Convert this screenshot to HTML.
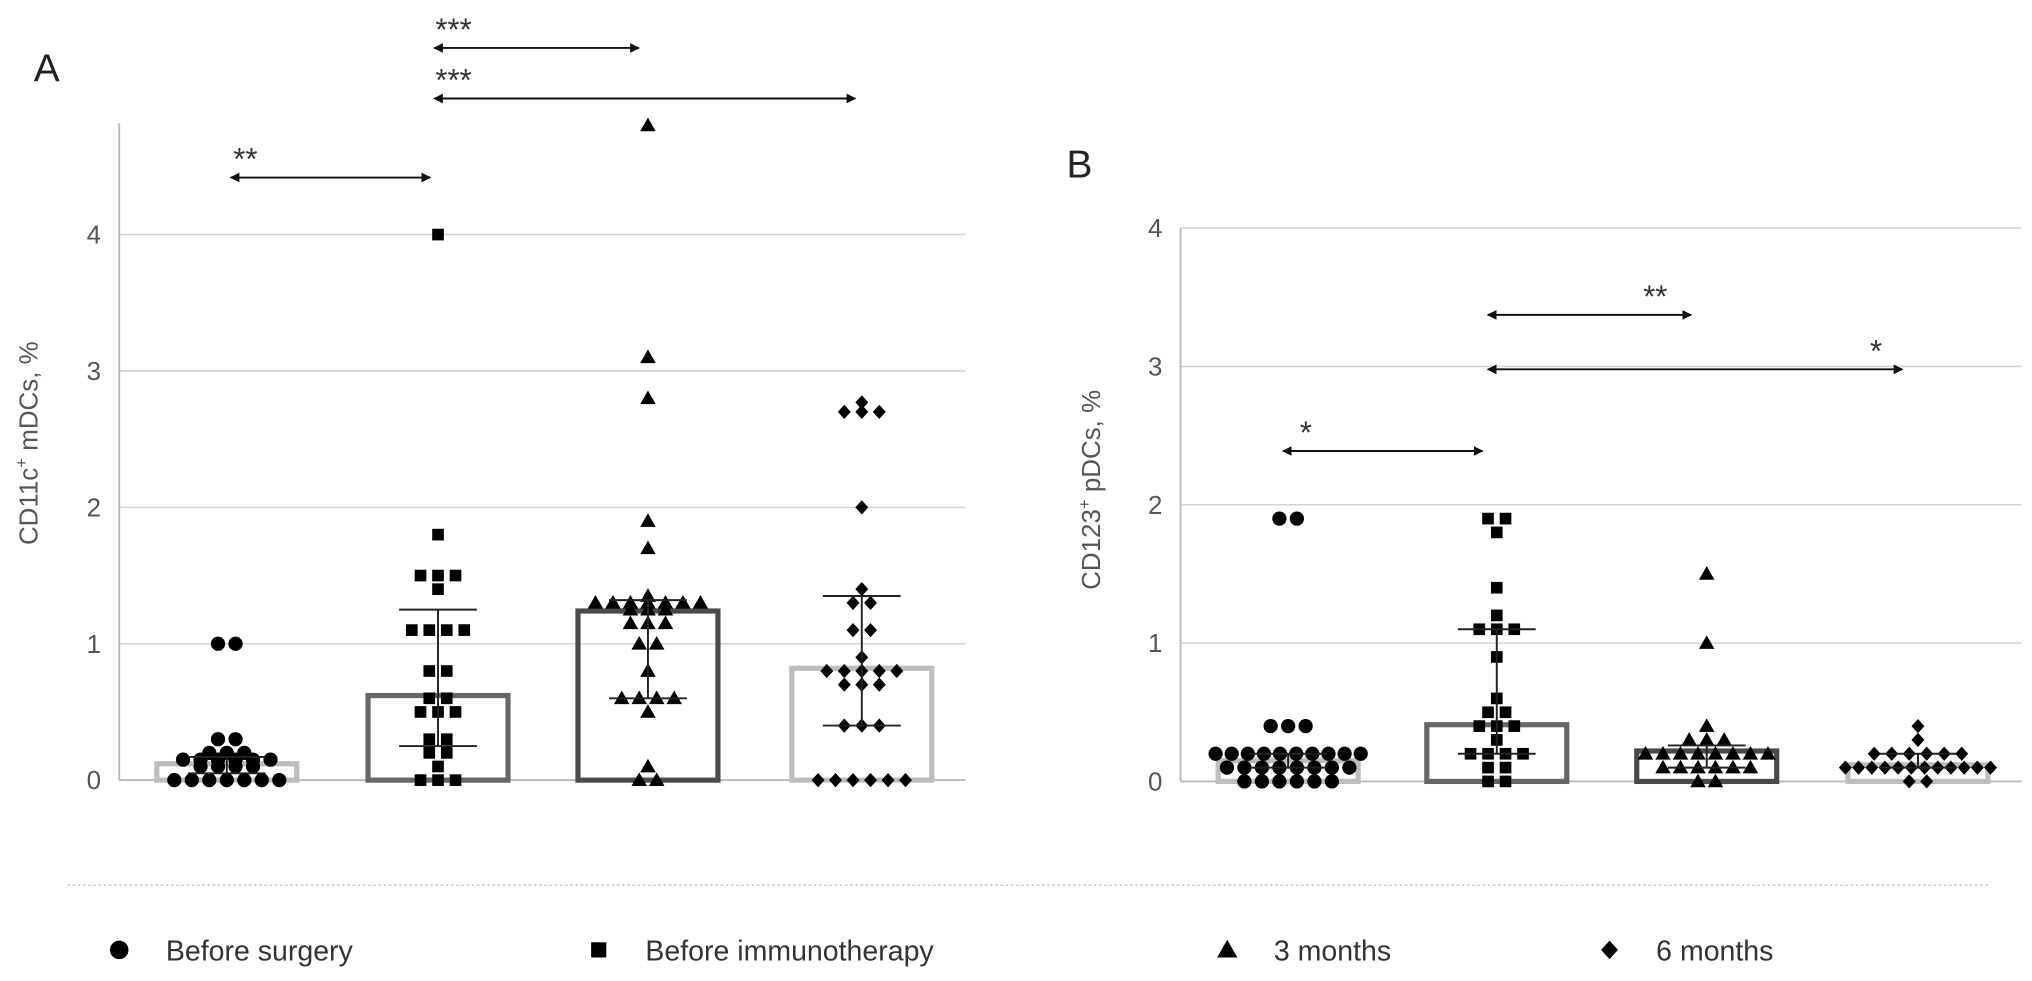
<!DOCTYPE html>
<html><head><meta charset="utf-8"><style>
html,body{margin:0;padding:0;background:#fff;}
svg{display:block;font-family:"Liberation Sans",sans-serif;}
</style></head><body>
<svg id="chart" width="2032" height="981" viewBox="0 0 1568 757" preserveAspectRatio="none" xmlns="http://www.w3.org/2000/svg">
<defs>
<marker id="ah" viewBox="0 0 10 10" refX="9" refY="5" markerWidth="5" markerHeight="5" orient="auto-start-reverse"><path d="M0,0 L10,5 L0,10 z" fill="#111"/></marker>
</defs>
<g id="root"></g>
</svg>
<script>
const ticks = [0,1,2,3,4];
const groups = ["Before surgery","Before immunotherapy","3 months","6 months"];
const shapes = ["circle","square","triangle","diamond"];
const medA = [0.12,0.62,1.24,0.82];
const hiA = [0.17,1.25,1.32,1.35];
const loA = [0.05,0.25,0.6,0.4];
const ptsA1 = [1,1,0.3,0.3,0.2,0.2,0.2,0.15,0.15,0.15,0.15,0.15,0.15,0.1,0.1,0.1,0.1,0,0,0,0,0,0,0];
const ptsA2 = [4,1.8,1.5,1.5,1.5,1.4,1.1,1.1,1.1,1.1,0.8,0.8,0.6,0.6,0.5,0.5,0.5,0.3,0.3,0.2,0.2,0.1,0,0,0];
const ptsA3 = [4.8,3.1,2.8,1.9,1.7,1.3,1.3,1.3,1.3,1.3,1.3,1.3,1.35,1.25,1.25,1.25,1.15,1.15,1.15,1,1,0.8,0.6,0.6,0.6,0.6,0.5,0.1,0,0];
const ptsA4 = [2.77,2.7,2.7,2.7,2,1.4,1.3,1.3,1.1,1.1,0.9,0.8,0.8,0.8,0.8,0.8,0.7,0.7,0.7,0.4,0.4,0.4,0,0,0,0,0,0];
const medB = [0.15,0.41,0.22,0.12];
const hiB = [0.2,1.1,0.26,0.2];
const loB = [0.1,0.2,0.1,0.1];
const ptsB1 = [1.9,1.9,0.4,0.4,0.4,0.2,0.2,0.2,0.2,0.2,0.2,0.2,0.2,0.2,0.2,0.1,0.1,0.1,0.1,0.1,0.1,0.1,0.1,0,0,0,0,0,0];
const ptsB2 = [1.9,1.9,1.8,1.4,1.2,1.1,1.1,1.1,0.9,0.6,0.5,0.5,0.4,0.4,0.4,0.3,0.2,0.2,0.2,0.2,0.1,0.1,0,0];
const ptsB3 = [1.5,1,0.4,0.3,0.3,0.3,0.2,0.2,0.2,0.2,0.2,0.2,0.2,0.2,0.1,0.1,0.1,0.1,0.1,0.1,0,0];
const ptsB4 = [0.4,0.3,0.2,0.2,0.2,0.2,0.2,0.2,0.1,0.1,0.1,0.1,0.1,0.1,0.1,0.1,0.1,0.1,0.1,0.1,0,0];

const NS="http://www.w3.org/2000/svg";
const root=document.getElementById('root');
function mk(tag,attrs,parent){const e=document.createElementNS(NS,tag);for(const k in attrs)e.setAttribute(k,attrs[k]);(parent||root).appendChild(e);return e;}
function marker(shape,x,y,s,parent){
  let e;
  if(shape==='circle'){e=mk('circle',{cx:x,cy:y,r:s*0.55,fill:'#000'},parent);}
  else if(shape==='square'){e=mk('rect',{x:x-s*0.45,y:y-s*0.45,width:s*0.9,height:s*0.9,fill:'#000'},parent);}
  else if(shape==='triangle'){e=mk('polygon',{points:`${x},${y-s*0.6} ${x+s*0.6},${y+s*0.45} ${x-s*0.6},${y+s*0.45}`,fill:'#000'},parent);}
  else {e=mk('polygon',{points:`${x},${y-s*0.55} ${x+s*0.5},${y} ${x},${y+s*0.55} ${x-s*0.5},${y}`,fill:'#000'},parent);}
  return e;
}
const barCol=['#bdbdbd','#666','#4a4a4a','#bdbdbd'];
function panel(cfg){
  const g=mk('g',{});
  
  
  const y=v=>cfg.y0-(v/4)*(cfg.y0-cfg.y4);
  ticks.forEach(t=>{
    if(t>0){const l=mk('line',{x1:cfg.ax,x2:cfg.right,y1:y(t),y2:y(t),stroke:'#d4d4d4','stroke-width':1.2},g);
      
      }
    const tx=mk('text',{x:cfg.ax-14,y:y(t)+7,'font-size':20,fill:'#555','text-anchor':'end'},g);
    tx.textContent=t;
    
    
  });
  const ax=mk('line',{x1:cfg.ax,x2:cfg.ax,y1:cfg.top,y2:cfg.y0,stroke:'#bbb','stroke-width':1.5},g);
  
  
  const bx=mk('line',{x1:cfg.ax,x2:cfg.right,y1:cfg.y0,y2:cfg.y0,stroke:'#bbb','stroke-width':1.5},g);
  
  
  cfg.centers.forEach((c,i)=>{
    const h=cfg.med[i];
    const b=mk('rect',{x:c-54,y:y(h),width:108,height:cfg.y0-y(h),fill:'none',stroke:barCol[i],'stroke-width':4},g);
    
    
    const pts=cfg.pts[i];
    const counts={};pts.forEach(v=>counts[v]=(counts[v]||0)+1);
    const idx={};
    pts.forEach(v=>{
      idx[v]=(idx[v]||0);
      const n=counts[v],k=idx[v]++;
      const sp=n>1?Math.min(13.5,112/(n-1)):0;
      const x=c+(k-(n-1)/2)*sp;
      const m=marker(shapes[i],x,y(v),10,g);
      
      
    });
    const ew=mk('path',{d:`M${c},${y(cfg.hi[i])}V${y(cfg.lo[i])}M${c-30},${y(cfg.hi[i])}H${c+30}M${c-30},${y(cfg.lo[i])}H${c+30}`,stroke:'#222','stroke-width':1.5,fill:'none'},g);
    
    
  });
  cfg.arrows.forEach(a=>{
    const l=mk('line',{x1:a[0],x2:a[1],y1:a[2],y2:a[2],stroke:'#111','stroke-width':1.5,'marker-start':'url(#ah)','marker-end':'url(#ah)'},g);
    
    
    const t=mk('text',{x:a[3],y:a[2]-6,'font-size':24,fill:'#333'},g);
    t.textContent=a[4];
    
    
  });
  const L=mk('text',{x:cfg.lx,y:cfg.ly,'font-size':30,fill:'#222'},g);
  L.textContent=cfg.letter;
  
  
  const ty=mk('text',{x:0,y:0,'font-size':20,fill:'#555','text-anchor':'middle',transform:`translate(${cfg.tx},${cfg.ty}) rotate(-90)`},g);
  ty.innerHTML=cfg.title;
  
  
}
panel({name:'panel-a',ax:92,right:745,top:95,y0:602,y4:181,centers:[175,338,500,665],med:medA,hi:hiA,lo:loA,
  pts:[ptsA1,ptsA2,ptsA3,ptsA4],
  arrows:[[178,332,137,180,'**'],[335,493,37,336,'***'],[335,660,76,336,'***']],
  letter:'A',lx:26,ly:63,tx:29,ty:342,title:'CD11c<tspan dy="-8" font-size="13">+</tspan><tspan dy="8"> mDCs, %</tspan>'});
panel({name:'panel-b',ax:911,right:1560,top:176,y0:603,y4:176,centers:[994,1155,1317,1480],med:medB,hi:hiB,lo:loB,
  pts:[ptsB1,ptsB2,ptsB3,ptsB4],
  arrows:[[990,1144,348,1003,'*'],[1148,1305,243,1268,'**'],[1148,1468,285,1443,'*']],
  letter:'B',lx:823,ly:137,tx:849,ty:378,title:'CD123<tspan dy="-8" font-size="13">+</tspan><tspan dy="8"> pDCs, %</tspan>'});

const sep=mk('line',{x1:52,x2:1535,y1:683,y2:683,stroke:'#bbb','stroke-width':1,'stroke-dasharray':'2,2'});


const legX=[92,462,947,1242];
groups.forEach((gname,i)=>{
  const lg=mk('g',{});
  
  
  marker(shapes[i],legX[i],733,13,lg);
  const t=mk('text',{x:legX[i]+36,y:741,'font-size':22,fill:'#333'},lg);
  t.textContent=gname;
});
</script>
</body></html>
